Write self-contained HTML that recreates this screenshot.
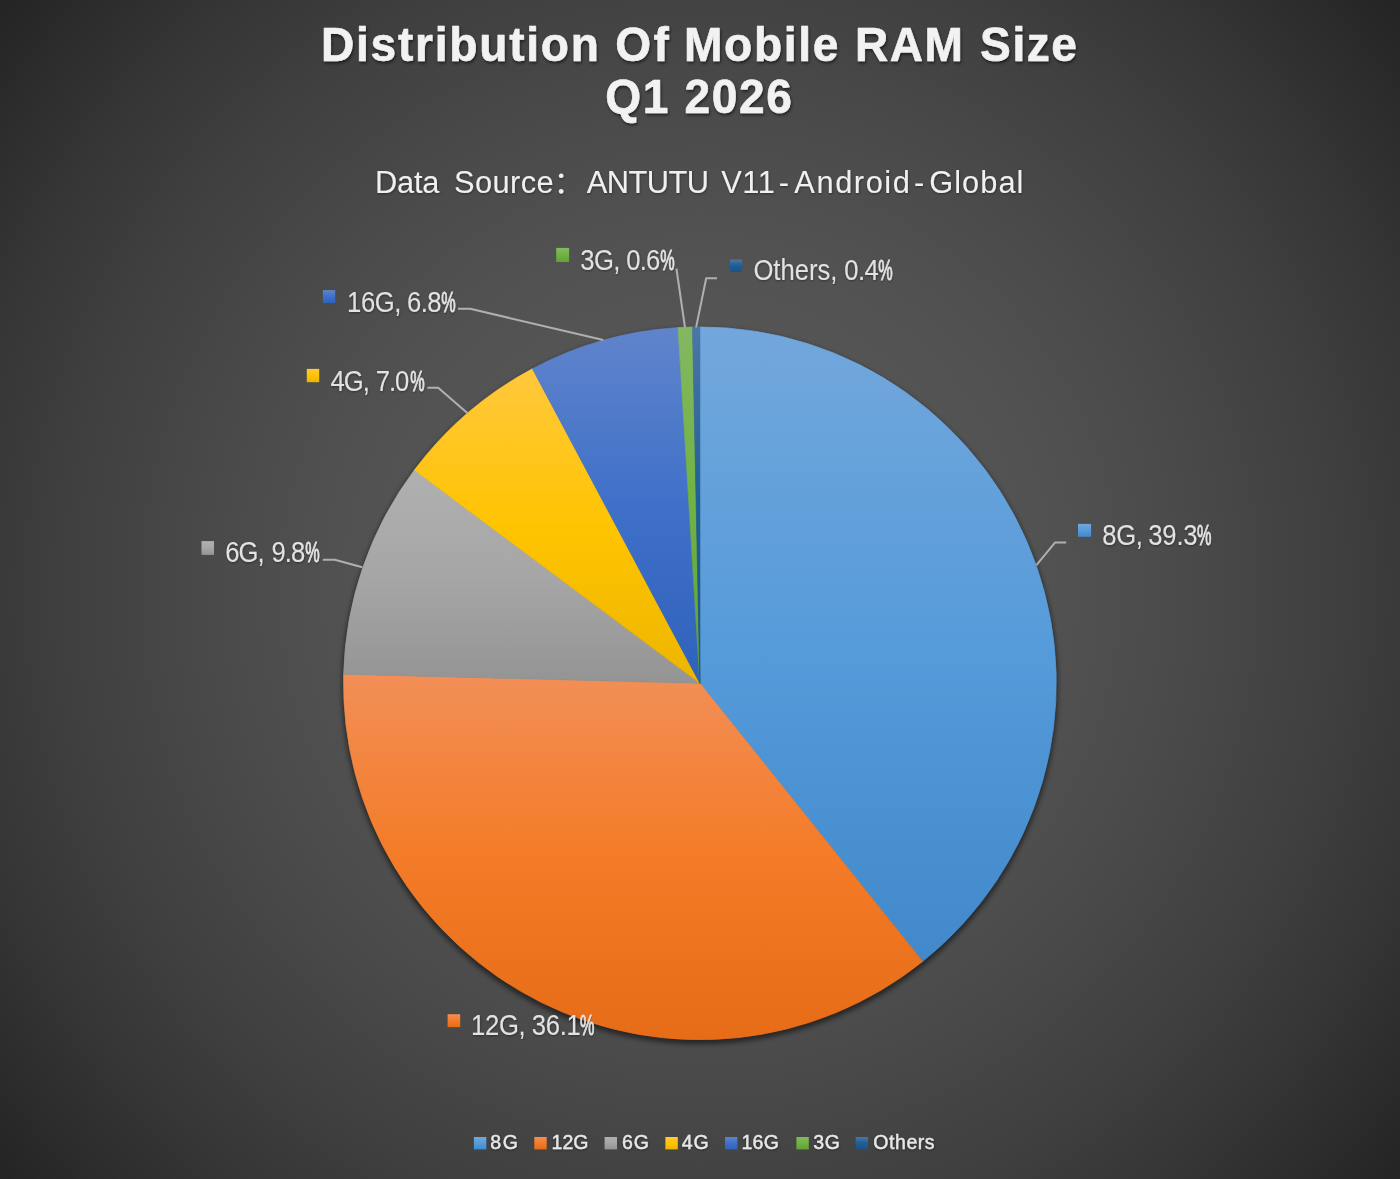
<!DOCTYPE html>
<html lang="en"><head><meta charset="utf-8"><title>Distribution Of Mobile RAM Size Q1 2026</title>
<style>
html,body{margin:0;padding:0;background:#262626;}
body{width:1400px;height:1179px;overflow:hidden;}
svg{display:block;}
text{font-family:"Liberation Sans","Noto Sans CJK SC",sans-serif;fill:#f2f2f2;white-space:pre;}
.title{font-weight:bold;font-size:48.2px;fill:#f2f2f2;stroke:#f2f2f2;stroke-width:0.6;stroke-linejoin:round;}
.sub{font-size:30.8px;fill:#f0f0f0;}
.lab{font-size:29px;fill:#e2e2e2;}
.pct{font-size:29px;fill:#e2e2e2;stroke:#e2e2e2;stroke-width:0.9;}
.leg{font-size:20.8px;fill:#e8e8e8;stroke:#e8e8e8;stroke-width:0.4;}
.ld{fill:none;stroke:#b0b0b0;stroke-width:2;stroke-linejoin:round;}
</style></head><body>
<svg width="1400" height="1179" viewBox="0 0 1400 1179">
<defs>
<radialGradient id="bg" gradientUnits="userSpaceOnUse" cx="700" cy="589.5" r="915"><stop offset="0.0000" stop-color="#595959"/><stop offset="0.0625" stop-color="#595959"/><stop offset="0.1250" stop-color="#585858"/><stop offset="0.1875" stop-color="#575757"/><stop offset="0.2500" stop-color="#565656"/><stop offset="0.3125" stop-color="#545454"/><stop offset="0.3750" stop-color="#525252"/><stop offset="0.4375" stop-color="#4f4f4f"/><stop offset="0.5000" stop-color="#4c4c4c"/><stop offset="0.5625" stop-color="#484848"/><stop offset="0.6250" stop-color="#444444"/><stop offset="0.6875" stop-color="#404040"/><stop offset="0.7500" stop-color="#3b3b3b"/><stop offset="0.8125" stop-color="#363636"/><stop offset="0.8750" stop-color="#303030"/><stop offset="0.9375" stop-color="#2a2a2a"/><stop offset="1.0000" stop-color="#242424"/></radialGradient>
<filter id="sh" x="-20%" y="-20%" width="140%" height="140%"><feGaussianBlur stdDeviation="2.5"/></filter>
<filter id="ts" x="-10%" y="-40%" width="120%" height="180%"><feDropShadow dx="1" dy="2" stdDeviation="1.6" flood-color="#000" flood-opacity="0.55"/></filter>
<filter id="ss" x="-10%" y="-40%" width="120%" height="180%"><feDropShadow dx="0.5" dy="1" stdDeviation="1" flood-color="#000" flood-opacity="0.4"/></filter>
<filter id="ls" x="-10%" y="-40%" width="120%" height="180%"><feDropShadow dx="0.5" dy="1" stdDeviation="1" flood-color="#000" flood-opacity="0.4"/></filter>
<linearGradient id="g0" gradientUnits="userSpaceOnUse" x1="0" y1="326.9" x2="0" y2="961.5"><stop offset="0.000" stop-color="#72A7DC"/><stop offset="0.500" stop-color="#569BDA"/><stop offset="1.000" stop-color="#4189CB"/></linearGradient>
<linearGradient id="m0" x1="0" y1="0" x2="0" y2="1"><stop offset="0.000" stop-color="#72A7DC"/><stop offset="0.500" stop-color="#569BDA"/><stop offset="1.000" stop-color="#4189CB"/></linearGradient>
<linearGradient id="g1" gradientUnits="userSpaceOnUse" x1="0" y1="674.1" x2="0" y2="1039.7"><stop offset="0.000" stop-color="#F28F57"/><stop offset="0.500" stop-color="#F47B27"/><stop offset="1.000" stop-color="#E66C17"/></linearGradient>
<linearGradient id="m1" x1="0" y1="0" x2="0" y2="1"><stop offset="0.000" stop-color="#F28F57"/><stop offset="0.500" stop-color="#F47B27"/><stop offset="1.000" stop-color="#E66C17"/></linearGradient>
<linearGradient id="g2" gradientUnits="userSpaceOnUse" x1="0" y1="470.0" x2="0" y2="683.3"><stop offset="0.000" stop-color="#B0B0B0"/><stop offset="0.500" stop-color="#A6A6A6"/><stop offset="1.000" stop-color="#949494"/></linearGradient>
<linearGradient id="m2" x1="0" y1="0" x2="0" y2="1"><stop offset="0.000" stop-color="#B0B0B0"/><stop offset="0.500" stop-color="#A6A6A6"/><stop offset="1.000" stop-color="#949494"/></linearGradient>
<linearGradient id="g3" gradientUnits="userSpaceOnUse" x1="0" y1="368.7" x2="0" y2="683.3"><stop offset="0.000" stop-color="#FFC83D"/><stop offset="0.500" stop-color="#FFC401"/><stop offset="1.000" stop-color="#EDB500"/></linearGradient>
<linearGradient id="m3" x1="0" y1="0" x2="0" y2="1"><stop offset="0.000" stop-color="#FFC83D"/><stop offset="0.500" stop-color="#FFC401"/><stop offset="1.000" stop-color="#EDB500"/></linearGradient>
<linearGradient id="g4" gradientUnits="userSpaceOnUse" x1="0" y1="327.6" x2="0" y2="683.3"><stop offset="0.000" stop-color="#6084CB"/><stop offset="0.500" stop-color="#3F70C9"/><stop offset="1.000" stop-color="#2F62BC"/></linearGradient>
<linearGradient id="m4" x1="0" y1="0" x2="0" y2="1"><stop offset="0.000" stop-color="#6084CB"/><stop offset="0.500" stop-color="#3F70C9"/><stop offset="1.000" stop-color="#2F62BC"/></linearGradient>
<linearGradient id="g5" gradientUnits="userSpaceOnUse" x1="0" y1="327.0" x2="0" y2="683.3"><stop offset="0.000" stop-color="#83B861"/><stop offset="0.500" stop-color="#70B243"/><stop offset="1.000" stop-color="#62A236"/></linearGradient>
<linearGradient id="m5" x1="0" y1="0" x2="0" y2="1"><stop offset="0.000" stop-color="#83B861"/><stop offset="0.500" stop-color="#70B243"/><stop offset="1.000" stop-color="#62A236"/></linearGradient>
<linearGradient id="g6" gradientUnits="userSpaceOnUse" x1="0" y1="326.9" x2="0" y2="683.3"><stop offset="0.000" stop-color="#4B77A5"/><stop offset="0.500" stop-color="#1F5E98"/><stop offset="1.000" stop-color="#1B5385"/></linearGradient>
<linearGradient id="m6" x1="0" y1="0" x2="0" y2="1"><stop offset="0.000" stop-color="#4B77A5"/><stop offset="0.500" stop-color="#1F5E98"/><stop offset="1.000" stop-color="#1B5385"/></linearGradient>
</defs>
<rect width="1400" height="1179" fill="url(#bg)"/>
<circle cx="699.9" cy="686.3" r="357.9" fill="#000" opacity="0.5" filter="url(#sh)"/>
<g id="pie"><path d="M699.90 683.30L699.90 326.90A356.4 356.4 0 0 1 922.65 961.51Z" fill="url(#g0)" stroke="url(#g0)" stroke-width="0.7" stroke-linejoin="round"/><path d="M699.90 683.30L922.65 961.51A356.4 356.4 0 0 1 343.62 674.15Z" fill="url(#g1)" stroke="url(#g1)" stroke-width="0.7" stroke-linejoin="round"/><path d="M699.90 683.30L343.62 674.15A356.4 356.4 0 0 1 414.37 470.00Z" fill="url(#g2)" stroke="url(#g2)" stroke-width="0.7" stroke-linejoin="round"/><path d="M699.90 683.30L414.37 470.00A356.4 356.4 0 0 1 532.40 368.71Z" fill="url(#g3)" stroke="url(#g3)" stroke-width="0.7" stroke-linejoin="round"/><path d="M699.90 683.30L532.40 368.71A356.4 356.4 0 0 1 678.07 327.57Z" fill="url(#g4)" stroke="url(#g4)" stroke-width="0.7" stroke-linejoin="round"/><path d="M699.90 683.30L678.07 327.57A356.4 356.4 0 0 1 692.51 326.98Z" fill="url(#g5)" stroke="url(#g5)" stroke-width="0.7" stroke-linejoin="round"/><path d="M699.90 683.30L692.51 326.98A356.4 356.4 0 0 1 699.90 326.90Z" fill="url(#g6)" stroke="url(#g6)" stroke-width="0.7" stroke-linejoin="round"/></g>
<g id="title"><text class="title" transform="translate(0 61.2) scale(0.956 1)" filter="url(#ts)"><tspan x="335.77" letter-spacing="1.847">Distribution </tspan><tspan x="643.50" letter-spacing="2.617">Of </tspan><tspan x="715.48" letter-spacing="1.774">Mobile </tspan><tspan x="894.35" letter-spacing="1.563">RAM </tspan><tspan x="1025.23" letter-spacing="1.610">Size</tspan></text><text class="title" transform="translate(0 112.6) scale(0.956 1)" filter="url(#ts)"><tspan x="633.05" letter-spacing="1.700">Q1 </tspan><tspan x="716.02" letter-spacing="1.729">2026</tspan></text></g>
<g id="subtitle"><text class="sub" transform="translate(0 192.7)" filter="url(#ss)"><tspan x="375.05" letter-spacing="-0.258">Data </tspan><tspan x="453.93" letter-spacing="0.442">Source</tspan><tspan x="553.55">： </tspan><tspan x="586.66" letter-spacing="-0.488">ANTUTU </tspan><tspan x="721.13" letter-spacing="0.603">V11</tspan><tspan x="778.77">-</tspan><tspan x="794.33" letter-spacing="1.567">Android</tspan><tspan x="914.00">-</tspan><tspan x="929.21" letter-spacing="1.044">Global</tspan></text></g>
<g id="leaders"><polyline class="ld" points="458,308.8 470.2,308.8 603.3,340"/><polyline class="ld" points="427.4,387.7 438.2,387.7 467.6,413.2"/><polyline class="ld" points="322.9,559.8 334.8,559.8 362.3,567.3"/><polyline class="ld" points="1066.2,542.6 1055,542.6 1036.4,565.2"/><polyline class="ld" points="676.4,268.5 685,327.5"/><polyline class="ld" points="717,278.2 706.2,278.2 696.1,327.4"/></g>
<g id="labels">
<g><rect x="556.2" y="247.9" width="12.9" height="14.1" fill="url(#m5)"/><text class="lab" transform="translate(0 269.7) scale(0.885 1)" filter="url(#ls)"><tspan x="655.72" letter-spacing="-0.741">3G, </tspan><tspan x="707.58" letter-spacing="-0.918">0.6</tspan></text><text class="pct" transform="translate(0 269.7) scale(0.56 1)" filter="url(#ls)"><tspan x="1179.00">%</tspan></text></g>
<g><rect x="730.0" y="259.5" width="12.1" height="12.5" fill="url(#m6)"/><text class="lab" transform="translate(0 279.5) scale(0.885 1)" filter="url(#ls)"><tspan x="851.34" letter-spacing="-0.043">Others, </tspan><tspan x="953.95" letter-spacing="-0.673">0.4</tspan></text><text class="pct" transform="translate(0 279.5) scale(0.56 1)" filter="url(#ls)"><tspan x="1568.12">%</tspan></text></g>
<g><rect x="322.9" y="290.1" width="12.3" height="12.9" fill="url(#m4)"/><text class="lab" transform="translate(0 311.6) scale(0.885 1)" filter="url(#ls)"><tspan x="392.22" letter-spacing="-0.480">16G, </tspan><tspan x="459.89" letter-spacing="-0.704">6.8</tspan></text><text class="pct" transform="translate(0 311.6) scale(0.56 1)" filter="url(#ls)"><tspan x="787.76">%</tspan></text></g>
<g><rect x="306.8" y="368.9" width="12.4" height="13.3" fill="url(#m3)"/><text class="lab" transform="translate(0 390.7) scale(0.885 1)" filter="url(#ls)"><tspan x="373.52" letter-spacing="-1.164">4G, </tspan><tspan x="424.72" letter-spacing="-1.259">7.0</tspan></text><text class="pct" transform="translate(0 390.7) scale(0.56 1)" filter="url(#ls)"><tspan x="732.41">%</tspan></text></g>
<g><rect x="201.5" y="541.1" width="12.5" height="13.8" fill="url(#m2)"/><text class="lab" transform="translate(0 562.3) scale(0.885 1)" filter="url(#ls)"><tspan x="254.43" letter-spacing="-1.013">6G, </tspan><tspan x="306.85" letter-spacing="-1.081">9.8</tspan></text><text class="pct" transform="translate(0 562.3) scale(0.56 1)" filter="url(#ls)"><tspan x="544.91">%</tspan></text></g>
<g><rect x="1078.0" y="523.9" width="13.1" height="12.9" fill="url(#m0)"/><text class="lab" transform="translate(0 545.0) scale(0.885 1)" filter="url(#ls)"><tspan x="1245.55" letter-spacing="-0.375">8G, </tspan><tspan x="1297.58" letter-spacing="-0.286">39.3</tspan></text><text class="pct" transform="translate(0 545.0) scale(0.56 1)" filter="url(#ls)"><tspan x="2137.58">%</tspan></text></g>
<g><rect x="447.6" y="1014.2" width="12.6" height="12.9" fill="url(#m1)"/><text class="lab" transform="translate(0 1034.7) scale(0.885 1)" filter="url(#ls)"><tspan x="532.33" letter-spacing="-0.404">12G, </tspan><tspan x="600.76" letter-spacing="-0.297">36.1</tspan></text><text class="pct" transform="translate(0 1034.7) scale(0.56 1)" filter="url(#ls)"><tspan x="1035.86">%</tspan></text></g>
</g>
<g id="legend">
<rect x="473.9" y="1137" width="12.4" height="12.4" fill="url(#m0)"/>
<rect x="534.3" y="1137" width="12.4" height="12.4" fill="url(#m1)"/>
<rect x="604.6" y="1137" width="12.4" height="12.4" fill="url(#m2)"/>
<rect x="665.4" y="1137" width="12.4" height="12.4" fill="url(#m3)"/>
<rect x="725" y="1137" width="12.4" height="12.4" fill="url(#m4)"/>
<rect x="796.4" y="1137" width="12.4" height="12.4" fill="url(#m5)"/>
<rect x="855.7" y="1137" width="12.4" height="12.4" fill="url(#m6)"/>
<text class="leg" transform="translate(0 1148.9) scale(0.94 1)" filter="url(#ls)"><tspan x="521.42" letter-spacing="1.803">8G </tspan><tspan x="586.79" letter-spacing="-0.031">12G </tspan><tspan x="661.76" letter-spacing="0.961">6G </tspan><tspan x="725.26" letter-spacing="1.036">4G </tspan><tspan x="788.75" letter-spacing="0.347">16G </tspan><tspan x="865.28" letter-spacing="0.489">3G </tspan><tspan x="929.01" letter-spacing="0.580">Others</tspan></text>
</g>
</svg></body></html>
